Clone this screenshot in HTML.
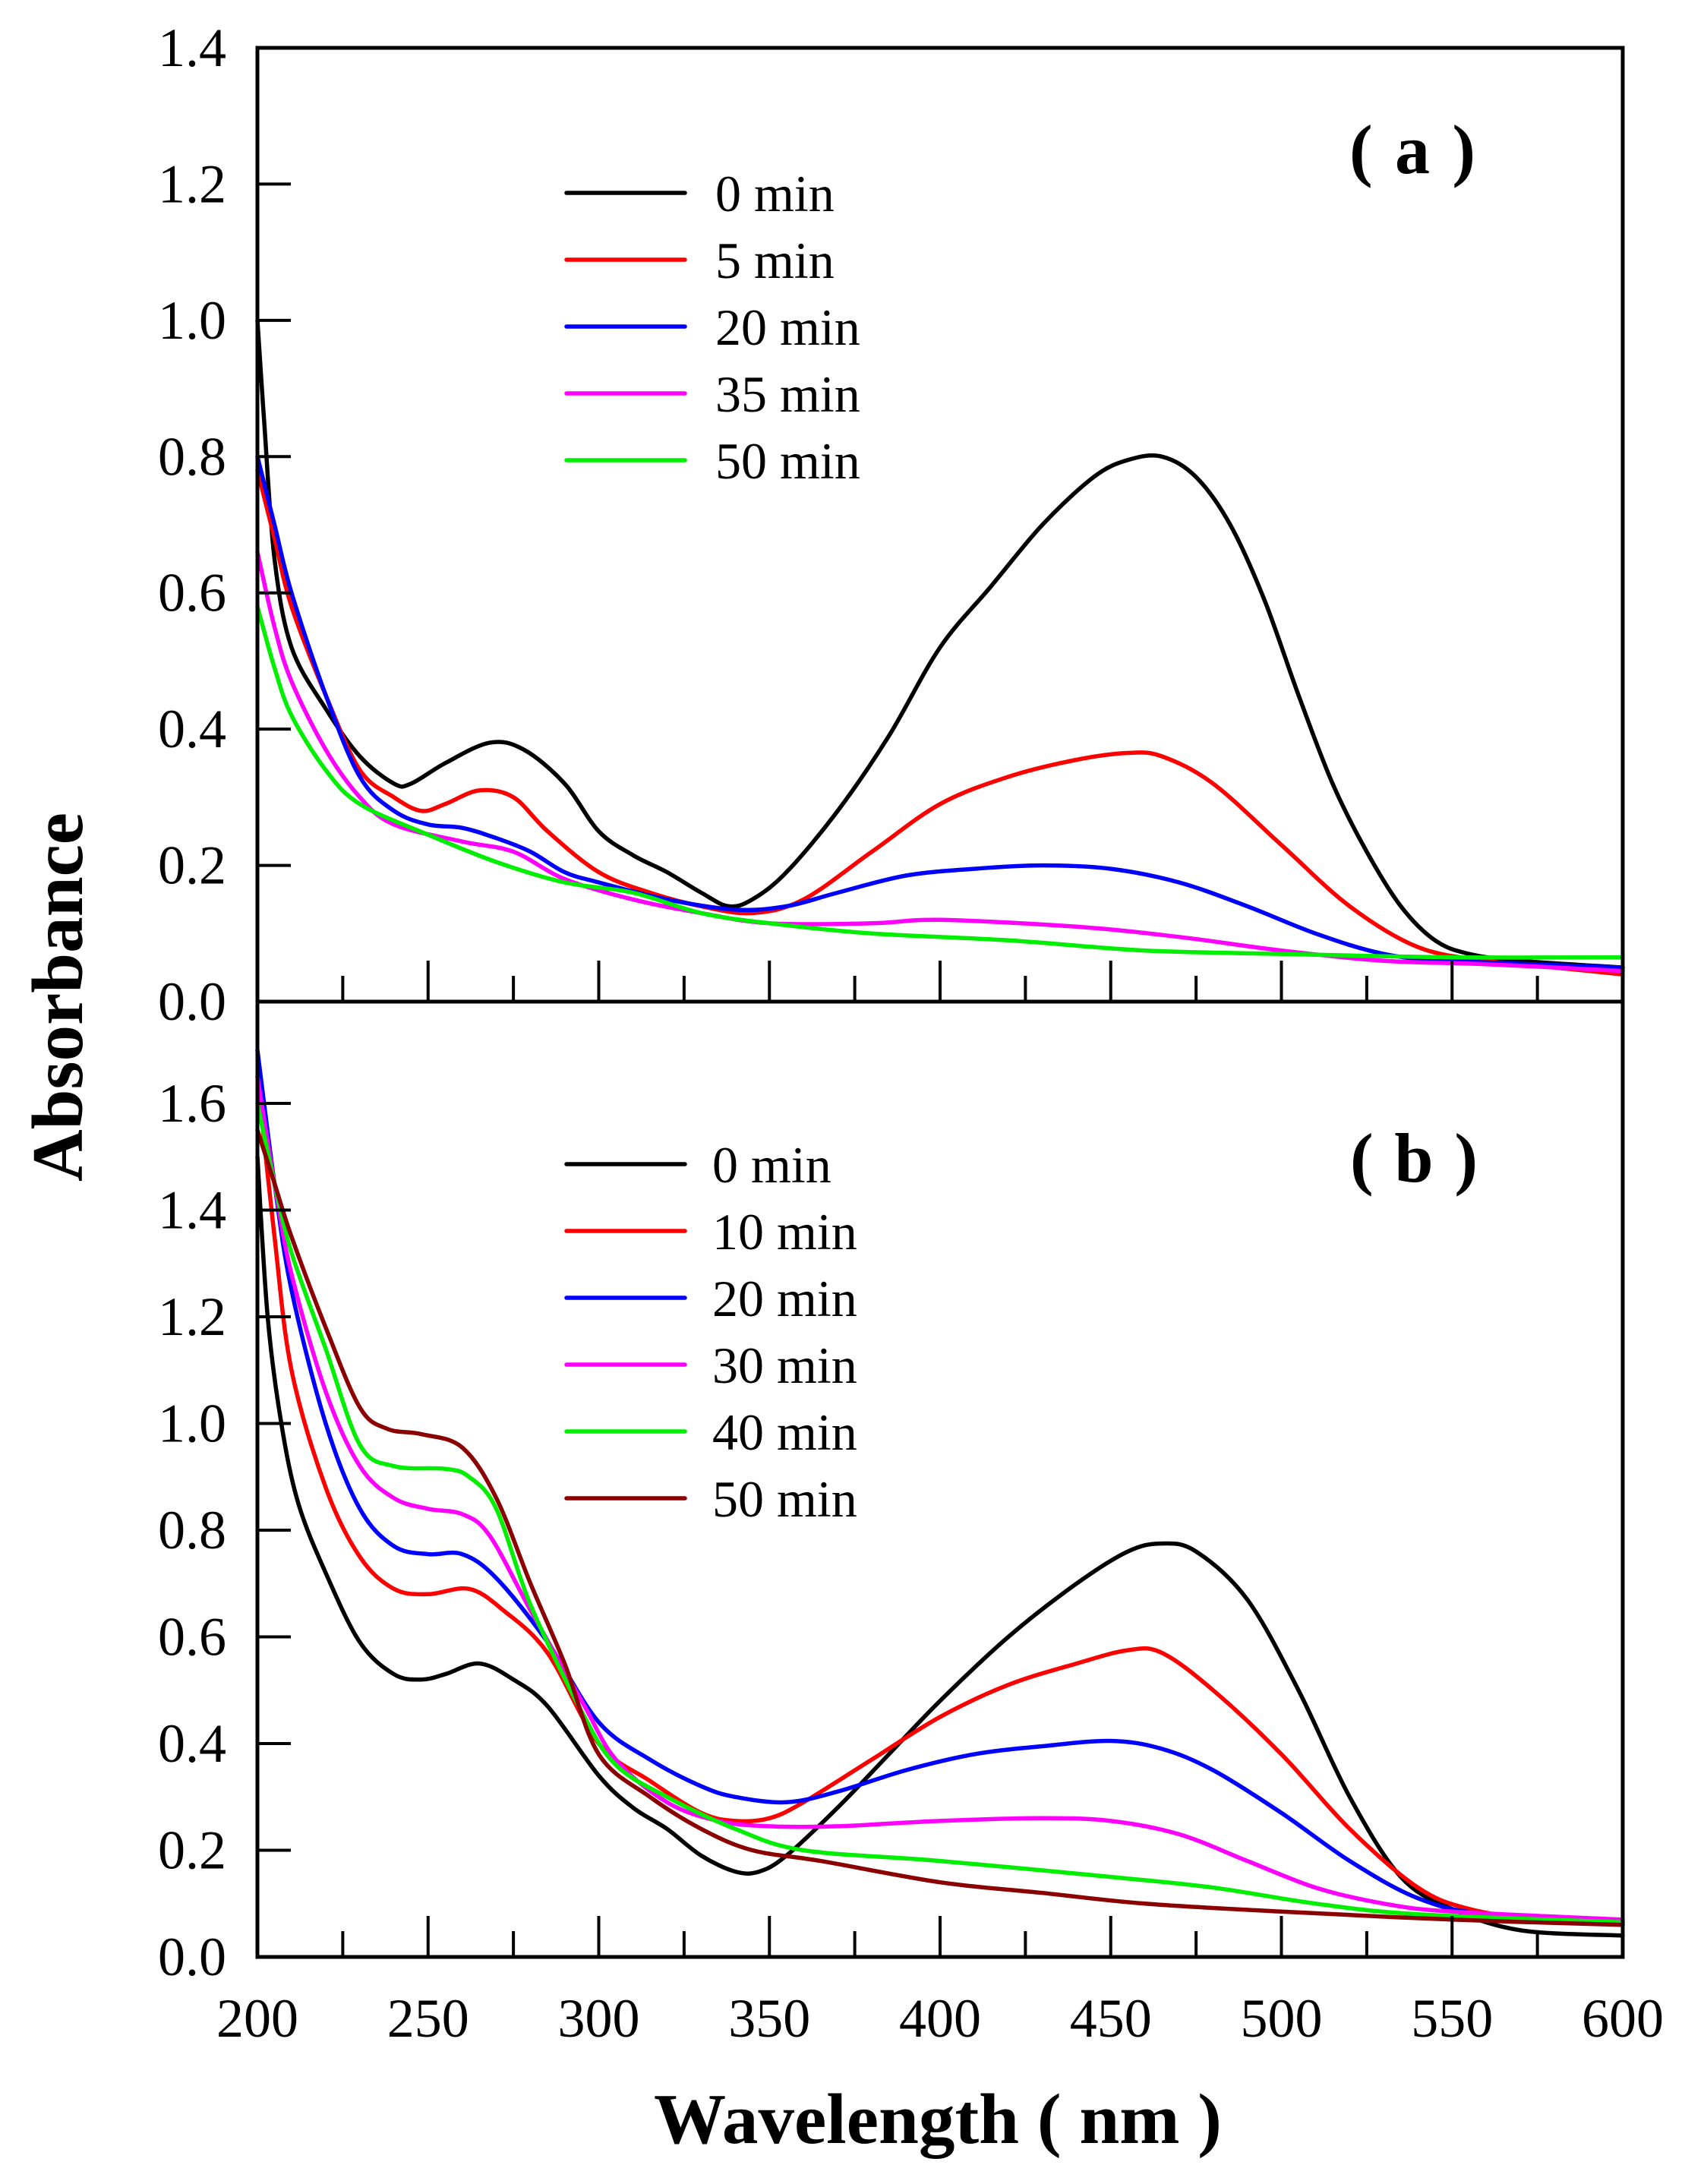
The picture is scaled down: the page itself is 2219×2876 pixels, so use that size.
<!DOCTYPE html>
<html><head><meta charset="utf-8"><style>
html,body{margin:0;padding:0;background:#fff;}
svg{display:block;}
text{font-family:"Liberation Serif",serif;fill:#000;}
</style></head><body>
<svg id="s" width="2219" height="2876" viewBox="0 0 2219 2876" xmlns="http://www.w3.org/2000/svg">
<g id="curves" fill="none" stroke-width="5.5" stroke-linejoin="round" stroke-linecap="round"></g>
<g id="axes" stroke="#000" fill="none"></g>
<g id="labels" font-size="72"></g>
<text x="1860" y="228" font-size="92" font-weight="bold" text-anchor="middle" textLength="166" lengthAdjust="spacing">( a )</text>
<text x="1862" y="1556" font-size="92" font-weight="bold" text-anchor="middle" textLength="168" lengthAdjust="spacing">( b )</text>
<text x="861" y="2822" font-size="94" font-weight="bold" textLength="748" lengthAdjust="spacingAndGlyphs">Wavelength ( nm )</text>
<text transform="translate(108,1313) rotate(-90)" font-size="95" font-weight="bold" text-anchor="middle" textLength="486" lengthAdjust="spacingAndGlyphs">Absorbance</text>
</svg>
<script>
const NS="http://www.w3.org/2000/svg";
const X0=339,X1=2137;
const xs=w=>X0+(w-200)*(X1-X0)/400;
const ya=a=>1319-a*(1319-63)/1.4;
const yb=a=>2577-a*(2577-1453)/1.6;
function el(t,attrs,parent,txt){const e=document.createElementNS(NS,t);for(const k in attrs)e.setAttribute(k,attrs[k]);if(txt!==undefined)e.textContent=txt;parent.appendChild(e);return e;}
function path(pts,yf){
  const P=pts.map(p=>[xs(p[0]),yf(p[1])]);
  let d="M"+P[0][0].toFixed(1)+","+P[0][1].toFixed(1);
  for(let i=0;i<P.length-1;i++){
    const p0=P[i-1]||P[i],p1=P[i],p2=P[i+1],p3=P[i+2]||P[i+1];
    const c1=[p1[0]+(p2[0]-p0[0])/6,p1[1]+(p2[1]-p0[1])/6];
    const c2=[p2[0]-(p3[0]-p1[0])/6,p2[1]-(p3[1]-p1[1])/6];
    d+="C"+c1.map(v=>v.toFixed(1))+" "+c2.map(v=>v.toFixed(1))+" "+p2.map(v=>v.toFixed(1));
  }
  return d;
}
const A=[
["#000",[[200,1.0],[202,0.85],[205,0.65],[210,0.52],[220,0.43],[230,0.36],[240,0.32],[245,0.32],[255,0.35],[268,0.38],[278,0.37],[290,0.32],[300,0.25],[310,0.215],[320,0.19],[330,0.16],[338,0.14],[345,0.15],[355,0.19],[370,0.28],[385,0.39],[400,0.52],[415,0.61],[430,0.70],[445,0.77],[455,0.795],[465,0.80],[475,0.77],[485,0.70],[495,0.59],[505,0.45],[515,0.32],[525,0.22],[535,0.14],[545,0.09],[555,0.07],[570,0.06],[600,0.05]]],
["#ff0000",[[200,0.78],[205,0.68],[210,0.58],[220,0.45],[230,0.34],[240,0.30],[248,0.28],[255,0.29],[265,0.31],[275,0.30],[285,0.25],[300,0.19],[315,0.16],[330,0.14],[345,0.13],[360,0.15],[380,0.22],[400,0.29],[420,0.33],[440,0.355],[455,0.365],[465,0.36],[480,0.32],[500,0.23],[520,0.14],[540,0.08],[560,0.06],[580,0.05],[600,0.04]]],
["#0000ff",[[200,0.80],[205,0.70],[210,0.60],[220,0.45],[230,0.33],[240,0.28],[250,0.26],[260,0.255],[270,0.24],[280,0.22],[290,0.19],[300,0.175],[320,0.15],[340,0.135],[355,0.14],[370,0.16],[390,0.185],[410,0.195],[430,0.20],[450,0.195],[470,0.175],[490,0.14],[510,0.10],[530,0.07],[550,0.06],[600,0.05]]],
["#ff00ff",[[200,0.66],[205,0.55],[210,0.47],[220,0.37],[230,0.30],[240,0.26],[260,0.235],[275,0.22],[290,0.18],[310,0.15],[330,0.13],[350,0.115],[380,0.115],[400,0.12],[440,0.11],[470,0.095],[500,0.075],[530,0.06],[560,0.055],[600,0.045]]],
["#00ee00",[[200,0.58],[205,0.49],[210,0.42],[220,0.34],[230,0.29],[250,0.245],[270,0.205],[290,0.175],[310,0.16],[330,0.13],[350,0.115],[380,0.10],[420,0.09],[460,0.075],[500,0.07],[550,0.065],[600,0.065]]]
];
const B=[
["#000",[[200,1.50],[203,1.2],[207,1.0],[212,0.85],[220,0.72],[230,0.59],[240,0.53],[248,0.52],[255,0.53],[265,0.55],[275,0.52],[285,0.47],[300,0.34],[310,0.28],[320,0.24],[330,0.19],[340,0.16],[347,0.16],[355,0.19],[370,0.28],[385,0.38],[400,0.48],[420,0.60],[440,0.70],[455,0.76],[465,0.775],[475,0.76],[490,0.67],[505,0.50],[520,0.30],[535,0.15],[550,0.09],[570,0.05],[600,0.04]]],
["#ff0000",[[200,1.65],[205,1.35],[210,1.10],[220,0.88],[230,0.75],[240,0.69],[250,0.68],[262,0.69],[272,0.65],[285,0.57],[300,0.40],[315,0.33],[330,0.27],[340,0.255],[350,0.26],[360,0.29],[380,0.37],[400,0.45],[420,0.51],[440,0.55],[455,0.575],[465,0.57],[480,0.50],[500,0.38],[520,0.24],[540,0.13],[555,0.09],[575,0.07],[600,0.06]]],
["#0000ff",[[200,1.70],[205,1.45],[210,1.25],[220,1.00],[230,0.84],[240,0.77],[250,0.755],[260,0.755],[270,0.71],[285,0.59],[300,0.44],[315,0.37],[330,0.32],[340,0.30],[355,0.29],[370,0.31],[390,0.35],[410,0.38],[430,0.395],[450,0.405],[465,0.39],[480,0.35],[500,0.27],[520,0.18],[540,0.11],[560,0.08],[600,0.065]]],
["#ff00ff",[[200,1.65],[205,1.45],[210,1.28],[220,1.06],[230,0.92],[240,0.86],[250,0.84],[260,0.83],[268,0.79],[280,0.65],[295,0.48],[305,0.37],[320,0.29],[335,0.255],[350,0.245],[370,0.245],[400,0.255],[430,0.26],[450,0.255],[470,0.23],[490,0.18],[510,0.13],[530,0.10],[550,0.085],[600,0.07]]],
["#00ee00",[[200,1.60],[205,1.45],[210,1.32],[220,1.14],[230,0.96],[240,0.92],[255,0.915],[262,0.90],[270,0.84],[280,0.66],[295,0.46],[305,0.36],[320,0.30],[340,0.24],[360,0.20],[400,0.18],[450,0.15],[480,0.13],[510,0.10],[540,0.08],[600,0.065]]],
["#8b0000",[[200,1.55],[205,1.45],[210,1.35],[220,1.18],[230,1.03],[238,0.99],[248,0.98],[260,0.955],[270,0.86],[280,0.70],[290,0.55],[300,0.38],[315,0.30],[330,0.24],[345,0.20],[365,0.18],[400,0.14],[430,0.12],[460,0.10],[500,0.085],[550,0.07],[600,0.06]]]
];
const cg=document.getElementById("curves");
A.forEach(s=>el("path",{d:path(s[1],ya),stroke:s[0]},cg));
B.forEach(s=>el("path",{d:path(s[1],yb),stroke:s[0]},cg));
const ax=document.getElementById("axes");
el("rect",{x:X0,y:63,width:X1-X0,height:2577-63,"stroke-width":5},ax);
el("line",{x1:X0,y1:1319,x2:X1,y2:1319,"stroke-width":5},ax);
const lg=document.getElementById("labels");
for(let w=225;w<600;w+=25){
  const L=(w%50===0)?54:34;
  el("line",{x1:xs(w),y1:1319,x2:xs(w),y2:1319-L,"stroke-width":4},ax);
  el("line",{x1:xs(w),y1:2577,x2:xs(w),y2:2577-L,"stroke-width":4},ax);
}
for(let w=200;w<=600;w+=50){el("text",{x:xs(w),y:2682,"text-anchor":"middle"},lg,String(w));}
for(let i=0;i<=7;i++){const v=i*0.2,y=ya(v);
  if(i>0&&i<7)el("line",{x1:X0,y1:y,x2:X0+44,y2:y,"stroke-width":4},ax);
  el("text",{x:298,y:y+24,"text-anchor":"end"},lg,v.toFixed(1));}
for(let i=0;i<=8;i++){const v=i*0.2,y=yb(v);
  if(i>0)el("line",{x1:X0,y1:y,x2:X0+44,y2:y,"stroke-width":4},ax);
  el("text",{x:298,y:y+24,"text-anchor":"end"},lg,v.toFixed(1));}
const la=["0 min","5 min","20 min","35 min","50 min"];
const lb=["0 min","10 min","20 min","30 min","40 min","50 min"];
la.forEach((t,i)=>{const y=254+i*88;el("line",{x1:746,y1:y,x2:902,y2:y,stroke:A[i][0],"stroke-width":5.5},cg);
  el("text",{x:942,y:y+24,"font-size":68},lg,t);});
lb.forEach((t,i)=>{const y=1533+i*88;el("line",{x1:746,y1:y,x2:902,y2:y,stroke:B[i][0],"stroke-width":5.5},cg);
  el("text",{x:938,y:y+24,"font-size":68},lg,t);});
</script>
</body></html>
